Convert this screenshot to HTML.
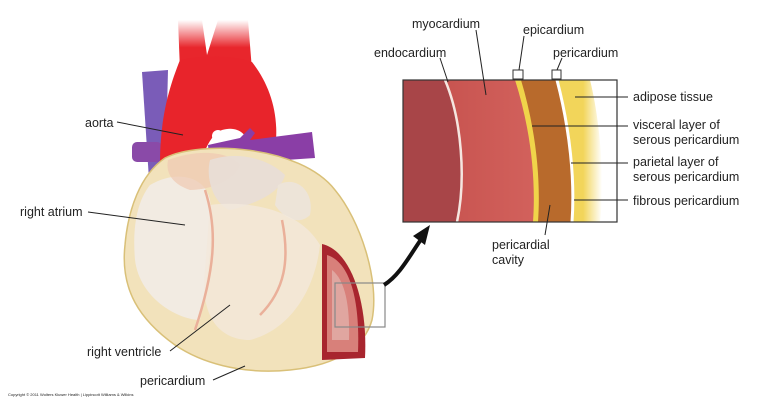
<!DOCTYPE html>
<html><head><meta charset="utf-8"><style>
html,body{margin:0;padding:0;background:#fff;}
svg{display:block;}
text{font-family:"Liberation Sans",sans-serif;font-size:12.5px;fill:#222;}
</style></head><body>
<svg width="766" height="408" viewBox="0 0 766 408" xmlns="http://www.w3.org/2000/svg">
<defs>
<linearGradient id="top" x1="0" y1="0" x2="0" y2="1"><stop offset="0" stop-color="#fff"/><stop offset="0.55" stop-color="#e8262c"/></linearGradient>
<linearGradient id="fat" x1="0" y1="0" x2="1" y2="0"><stop offset="0.6" stop-color="#f2d55a"/><stop offset="1" stop-color="#fff"/></linearGradient>
<linearGradient id="myo" x1="0" y1="0" x2="1" y2="0"><stop offset="0" stop-color="#c85450"/><stop offset="1" stop-color="#d2615c"/></linearGradient>
<clipPath id="box"><rect x="403" y="80" width="214" height="142"/></clipPath>
</defs>
<!-- vessels -->
<path d="M142,72 L168,70 L165,190 L150,195 Z" fill="#7a5cb8"/>
<rect x="132" y="142" width="30" height="20" rx="5" fill="#8a4aa8"/>
<path d="M178,20 L202,20 L207,55 L218,20 L248,20 L252,70 L180,70 Z" fill="url(#top)"/>
<path d="M180,60 C168,90 160,120 160,165 L200,165 C205,150 210,135 222,130 C238,125 250,135 248,150 L275,150 C280,115 270,85 252,62 C235,55 200,55 180,60 Z" fill="#e8242b"/>
<circle cx="218" cy="136" r="6" fill="#fff"/>
<path d="M208,145 L240,138 L250,128 L255,133 L250,140 L312,132 L315,158 L210,165 Z" fill="#8a3ea6"/>
<!-- heart -->
<path d="M165,158 C200,140 300,145 335,190 C360,220 380,280 372,320 C365,345 340,365 290,370 C240,375 200,362 175,345 C140,320 120,290 125,245 C128,210 140,175 165,158 Z" fill="#f2e2bb" stroke="#d9c078" stroke-width="1.5"/>
<path d="M150,185 C175,170 205,175 210,200 C215,240 205,290 200,320 C180,320 140,300 135,260 C132,225 138,200 150,185 Z" fill="#f1ebe4" opacity="0.95"/>
<path d="M168,160 C200,148 230,152 240,165 C235,180 210,190 190,190 C175,185 165,175 168,160 Z" fill="#f0c9b2" opacity="0.7"/>
<path d="M210,160 C240,150 270,160 285,175 C280,195 250,205 230,210 C215,205 205,180 210,160 Z" fill="#e8ddd6" opacity="0.95"/>
<path d="M278,185 C295,175 315,190 310,215 C300,225 285,220 275,205 Z" fill="#ede4d8"/>
<path d="M210,205 C250,200 300,210 320,245 C315,290 290,330 250,340 C215,340 200,310 205,270 Z" fill="#f2e9dc" opacity="0.8"/>
<path d="M205,190 C218,230 215,270 195,330 M282,220 C290,260 285,290 260,315" stroke="#eab09a" stroke-width="2.5" fill="none"/>
<!-- window -->
<path d="M322,244 C350,250 368,300 365,358 L322,360 Z" fill="#a8252e"/>
<path d="M327,255 C350,262 360,300 358,352 L327,352 Z" fill="#d8807a"/>
<path d="M332,270 C345,280 350,305 349,340 L332,340 Z" fill="#e0a6a0"/>
<rect x="335" y="283" width="50" height="44" fill="none" stroke="#888" stroke-width="1.2"/>
<path d="M384,285 C400,275 410,255 422,238" stroke="#111" stroke-width="4" fill="none"/>
<polygon points="430,225 413,236 425,245" fill="#111"/>
<!-- inset -->
<g clip-path="url(#box)">
<rect x="403" y="80" width="214" height="142" fill="#fff"/>
<path d="M555,80 C568,130 572,180 570,222 L600,222 C605,180 600,120 590,80 Z" fill="url(#fat)"/>
<path d="M515,80 C530,130 535,180 532,222 L572,222 C575,180 570,130 557,80 Z" fill="#b86a2c"/>
<path d="M515,80 C530,130 535,180 532,222 L538,222 C541,180 536,130 521,80 Z" fill="#f0d44a"/>
<path d="M557,80 C570,130 575,180 572,222" stroke="#fff" stroke-width="3" fill="none"/>
<path d="M445,80 C462,120 466,180 457,222 L533,222 C536,180 531,130 515,80 Z" fill="url(#myo)"/>
<path d="M403,80 L445,80 C462,120 466,180 457,222 L403,222 Z" fill="#a84548"/>
<path d="M445,80 C462,120 466,180 457,222" stroke="#f5e6e0" stroke-width="2.5" fill="none"/>
</g>
<rect x="403" y="80" width="214" height="142" fill="none" stroke="#333" stroke-width="1.2"/>
<rect x="513" y="70" width="10" height="9" fill="#fff" stroke="#333"/>
<rect x="552" y="70" width="9" height="9" fill="#fff" stroke="#333"/>
<g stroke="#222" stroke-width="1" fill="none">
<line x1="440" y1="58" x2="448" y2="82"/>
<line x1="476" y1="30" x2="486" y2="95"/>
<line x1="524" y1="36" x2="519" y2="70"/>
<line x1="562" y1="58" x2="557" y2="70"/>
<line x1="628" y1="97" x2="575" y2="97"/>
<line x1="628" y1="126" x2="532" y2="126"/>
<line x1="628" y1="163" x2="571" y2="163"/>
<line x1="628" y1="200" x2="574" y2="200"/>
<line x1="545" y1="235" x2="550" y2="205"/>
<line x1="117" y1="122" x2="183" y2="135"/>
<line x1="88" y1="212" x2="185" y2="225"/>
<line x1="170" y1="351" x2="230" y2="305"/>
<line x1="213" y1="380" x2="245" y2="366"/>
</g>
<text x="412" y="28">myocardium</text>
<text x="374" y="57">endocardium</text>
<text x="523" y="34">epicardium</text>
<text x="553" y="57">pericardium</text>
<text x="633" y="101">adipose tissue</text>
<text x="633" y="129">visceral layer of</text>
<text x="633" y="144">serous pericardium</text>
<text x="633" y="166">parietal layer of</text>
<text x="633" y="181">serous pericardium</text>
<text x="633" y="205">fibrous pericardium</text>
<text x="492" y="249">pericardial</text>
<text x="492" y="264">cavity</text>
<text x="85" y="127">aorta</text>
<text x="20" y="216">right atrium</text>
<text x="87" y="356">right ventricle</text>
<text x="140" y="385">pericardium</text>
<text x="8" y="396" style="font-size:4px">Copyright © 2011 Wolters Kluwer Health | Lippincott Williams &amp; Wilkins</text>
</svg>
</body></html>
